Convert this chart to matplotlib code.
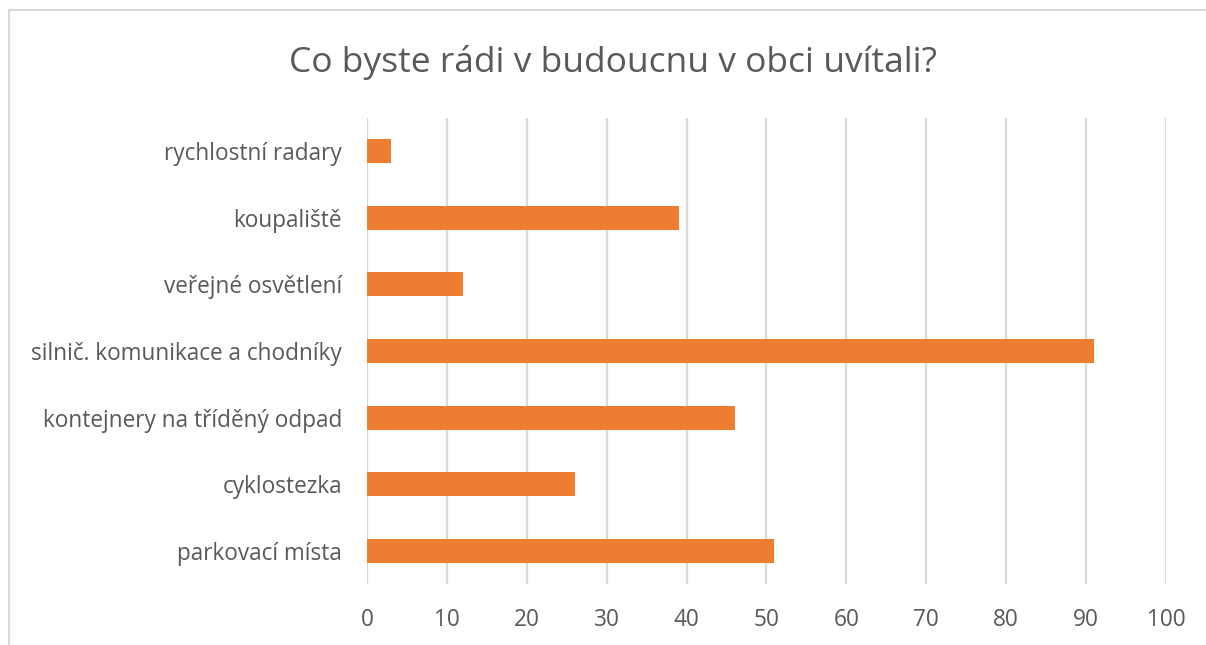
import matplotlib
matplotlib.use("Agg")
import matplotlib.pyplot as plt
from matplotlib.lines import Line2D

# data, shown top to bottom
categories = ["rychlostní radary", "koupaliště", "veřejné osvětlení",
              "silnič. komunikace a chodníky", "kontejnery na tříděný odpad",
              "cyklostezka", "parkovací místa"]
values = [3, 39, 12, 91, 46, 26, 51]
xticks = [0, 10, 20, 30, 40, 50, 60, 70, 80, 90, 100]

plt.rcParams["font.family"] = ["Open Sans", "DejaVu Sans"]
text_col = "#595959"

fig = plt.figure(figsize=(12.06, 6.45), dpi=100)
ax = fig.add_axes([0.3043, 0.0946, 0.6625, 0.7224])

pos = list(range(len(categories)))
ax.barh(pos, values, height=0.36, color="#ed7d31", zorder=3)
ax.set_ylim(len(categories) - 0.5, -0.5)
ax.set_xlim(0, 100)
ax.set_yticks(pos)
ax.set_yticklabels(categories, fontsize=16.3, color=text_col)
ax.set_xticks(xticks)
ax.set_xticklabels([str(t) for t in xticks], fontsize=16.3, color=text_col)
ax.tick_params(length=0)
ax.tick_params(axis="y", pad=18)
ax.tick_params(axis="x", pad=17)
ax.xaxis.grid(True, color="#d9d9d9", lw=1.6, zorder=0)
for s in ax.spines.values():
    s.set_visible(False)

fig.text(0.508, 0.903, "Co byste rádi v budoucnu v obci uvítali?",
         ha="center", va="center", fontsize=25.5, color=text_col)

# chart area border (top and left visible)
fig.add_artist(Line2D([9 / 1206, 9 / 1206], [0, 1 - 10 / 645],
                      transform=fig.transFigure, color="#d9d9d9", lw=1.5))
fig.add_artist(Line2D([9 / 1206, 1], [1 - 10 / 645, 1 - 10 / 645],
                      transform=fig.transFigure, color="#d9d9d9", lw=1.5))

fig.savefig("out.png", dpi=100)
